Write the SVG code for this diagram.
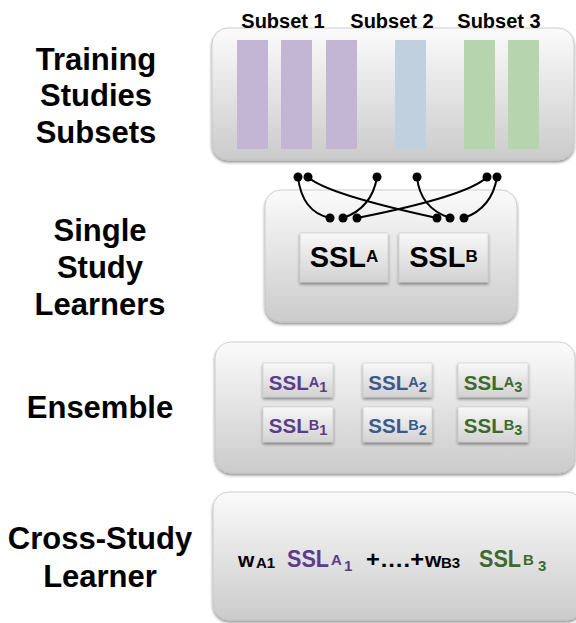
<svg xmlns="http://www.w3.org/2000/svg" width="576" height="623" viewBox="0 0 576 623">
  <defs>
    <linearGradient id="panelGrad" x1="0" y1="0" x2="0" y2="1">
      <stop offset="0" stop-color="#fbfbfb"/>
      <stop offset="1" stop-color="#cbcbcb"/>
    </linearGradient>
    <linearGradient id="boxGrad" x1="0" y1="0" x2="0" y2="1">
      <stop offset="0" stop-color="#f8f8f8"/>
      <stop offset="1" stop-color="#d2d2d2"/>
    </linearGradient>
    <filter id="shadow" x="-10%" y="-10%" width="120%" height="130%">
      <feGaussianBlur in="SourceAlpha" stdDeviation="1.5"/>
      <feOffset dy="2" result="b"/>
      <feComponentTransfer><feFuncA type="linear" slope="0.45"/></feComponentTransfer>
      <feMerge><feMergeNode/><feMergeNode in="SourceGraphic"/></feMerge>
    </filter>
    <filter id="soft" x="-20%" y="-5%" width="140%" height="110%">
      <feGaussianBlur stdDeviation="0.7"/>
    </filter>
  </defs>
  <style>
    .panel { fill: url(#panelGrad); stroke: #c4c4c4; stroke-width: 0.8; filter: url(#shadow); }
    .box { fill: url(#boxGrad); stroke: #c8c8c8; stroke-width: 0.6; filter: url(#shadow); }
    .label { font-family: "Liberation Sans", Arial, sans-serif; font-weight: bold; font-size: 31px; fill: #000; text-anchor: middle; }
    .subset { font-family: "Liberation Sans", Arial, sans-serif; font-weight: bold; font-size: 20px; fill: #000; text-anchor: middle; }
    .ssl { font-family: "Liberation Sans", Arial, sans-serif; font-weight: bold; fill: #000; }
    .small { font-size: 20.5px; text-anchor: middle; }
    .purple { fill: #5c3b8b; }
    .blue { fill: #3a5a8c; }
    .green { fill: #3d6a2b; }
    .bar { filter: url(#soft); }
    .wire { fill: none; stroke: #000; stroke-width: 2; }
    .dot { fill: #000; }
  </style>

  <rect width="576" height="623" fill="#ffffff"/>

  <!-- Row labels -->
  <g id="label-training">
    <text class="label" x="96" y="70">Training</text>
    <text class="label" x="96" y="106">Studies</text>
    <text class="label" x="96" y="143">Subsets</text>
  </g>
  <g id="label-ssl">
    <text class="label" x="100" y="241">Single</text>
    <text class="label" x="100" y="278">Study</text>
    <text class="label" x="100" y="315">Learners</text>
  </g>
  <g id="label-ensemble">
    <text class="label" x="100" y="418">Ensemble</text>
  </g>
  <g id="label-csl">
    <text class="label" x="100" y="549">Cross-Study</text>
    <text class="label" x="100" y="587">Learner</text>
  </g>

  <!-- Training study subsets -->
  <g id="subsets">
    <rect class="panel" x="212" y="28" width="362" height="132" rx="16"/>
    <rect class="bar" x="237" y="40" width="31" height="109" fill="#c3b6d4"/>
    <rect class="bar" x="281" y="40" width="31" height="109" fill="#c3b6d4"/>
    <rect class="bar" x="326" y="40" width="31" height="109" fill="#c3b6d4"/>
    <rect class="bar" x="395" y="40" width="31" height="109" fill="#c1d0df"/>
    <rect class="bar" x="464" y="40" width="31" height="109" fill="#b6d4ae"/>
    <rect class="bar" x="508" y="40" width="31" height="109" fill="#b6d4ae"/>
    <text class="subset" x="283" y="28">Subset 1</text>
    <text class="subset" x="392" y="28">Subset 2</text>
    <text class="subset" x="499" y="28">Subset 3</text>
  </g>

  <!-- Single study learners -->
  <g id="single-study-learners">
    <rect class="panel" x="265" y="190" width="252" height="132" rx="16"/>
    <g id="ssl-a">
      <rect class="box" x="300" y="233" width="88" height="49"/>
      <text class="ssl" x="344" y="267" text-anchor="middle" font-size="29">SSL<tspan font-size="17" dy="-5">A</tspan></text>
    </g>
    <g id="ssl-b">
      <rect class="box" x="399" y="233" width="89" height="49"/>
      <text class="ssl" x="443.5" y="267" text-anchor="middle" font-size="29">SSL<tspan font-size="17" dy="-5">B</tspan></text>
    </g>
  </g>

  <!-- Connectors from subsets to learners -->
  <g id="connectors">
    <path class="wire" d="M298,177 Q302,212 330,218"/>
    <path class="wire" d="M377,177 Q372,208 343,218"/>
    <path class="wire" d="M487,177 Q468,196 357,218"/>
    <path class="wire" d="M308,177 Q326,194 437,218"/>
    <path class="wire" d="M417,177 Q420,208 450,218"/>
    <path class="wire" d="M497,177 Q492,208 464,218"/>
    <circle class="dot" cx="298" cy="177" r="4.5"/>
    <circle class="dot" cx="308" cy="177" r="4.5"/>
    <circle class="dot" cx="377" cy="177" r="4.5"/>
    <circle class="dot" cx="417" cy="177" r="4.5"/>
    <circle class="dot" cx="487" cy="177" r="4.5"/>
    <circle class="dot" cx="497" cy="177" r="4.5"/>
    <circle class="dot" cx="330" cy="218" r="4.5"/>
    <circle class="dot" cx="343" cy="218" r="4.5"/>
    <circle class="dot" cx="357" cy="218" r="4.5"/>
    <circle class="dot" cx="437" cy="218" r="4.5"/>
    <circle class="dot" cx="450" cy="218" r="4.5"/>
    <circle class="dot" cx="464" cy="218" r="4.5"/>
  </g>

  <!-- Ensemble -->
  <g id="ensemble">
    <rect class="panel" x="215" y="342" width="360" height="131" rx="16"/>
    <g id="ssl-a1">
      <rect class="box" x="263" y="363" width="70" height="34"/>
      <text class="ssl small purple" x="298" y="390">SSL<tspan font-size="14.5" dy="-3">A</tspan><tspan font-size="14.5" dy="5">1</tspan></text>
    </g>
    <g id="ssl-a2">
      <rect class="box" x="363" y="363" width="69" height="34"/>
      <text class="ssl small blue" x="397.5" y="390">SSL<tspan font-size="14.5" dy="-3">A</tspan><tspan font-size="14.5" dy="5">2</tspan></text>
    </g>
    <g id="ssl-a3">
      <rect class="box" x="458" y="363" width="70" height="34"/>
      <text class="ssl small green" x="493" y="390">SSL<tspan font-size="14.5" dy="-3">A</tspan><tspan font-size="14.5" dy="5">3</tspan></text>
    </g>
    <g id="ssl-b1">
      <rect class="box" x="263" y="407" width="70" height="35"/>
      <text class="ssl small purple" x="298" y="433">SSL<tspan font-size="14.5" dy="-3">B</tspan><tspan font-size="14.5" dy="5">1</tspan></text>
    </g>
    <g id="ssl-b2">
      <rect class="box" x="363" y="407" width="69" height="35"/>
      <text class="ssl small blue" x="397.5" y="433">SSL<tspan font-size="14.5" dy="-3">B</tspan><tspan font-size="14.5" dy="5">2</tspan></text>
    </g>
    <g id="ssl-b3">
      <rect class="box" x="458" y="407" width="70" height="35"/>
      <text class="ssl small green" x="493" y="433">SSL<tspan font-size="14.5" dy="-3">B</tspan><tspan font-size="14.5" dy="5">3</tspan></text>
    </g>
  </g>

  <!-- Cross-study learner -->
  <g id="cross-study-learner">
    <rect class="panel" x="213" y="492" width="370" height="128" rx="16"/>
    <text class="ssl" font-size="21" x="238" y="567">w</text>
    <text class="ssl" font-size="15" x="256" y="568">A1</text>
    <text class="ssl purple" font-size="23" x="287" y="567" textLength="42" lengthAdjust="spacingAndGlyphs">SSL</text>
    <text class="ssl purple" font-size="15" x="331" y="565">A</text>
    <text class="ssl purple" font-size="15" x="344" y="571">1</text>
    <text class="ssl" font-size="22" x="366" y="567" textLength="58" lengthAdjust="spacingAndGlyphs">+….+</text>
    <text class="ssl" font-size="21" x="425" y="567">w</text>
    <text class="ssl" font-size="15" x="441" y="568">B3</text>
    <text class="ssl green" font-size="23" x="479" y="567" textLength="42" lengthAdjust="spacingAndGlyphs">SSL</text>
    <text class="ssl green" font-size="15" x="523" y="565">B</text>
    <text class="ssl green" font-size="15" x="538" y="571">3</text>
  </g>
</svg>
